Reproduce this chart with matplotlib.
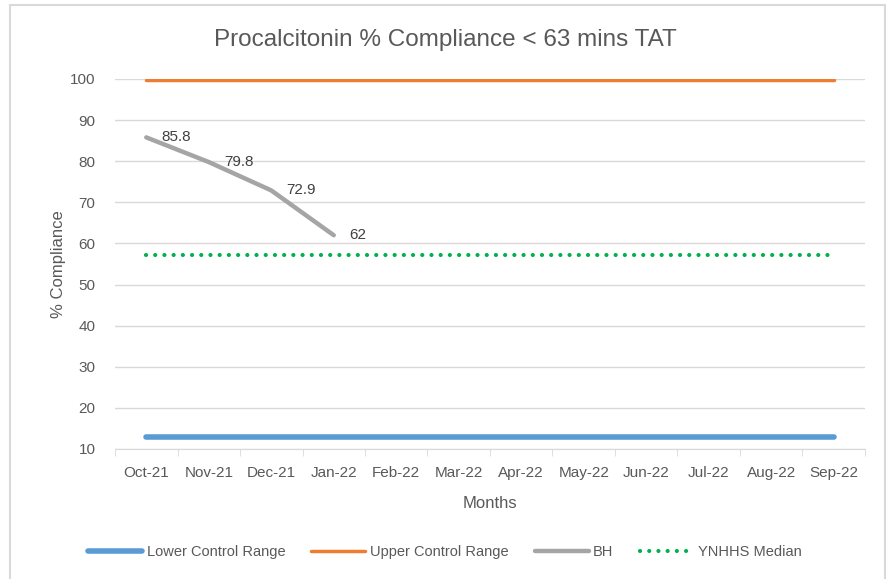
import matplotlib
matplotlib.use("Agg")
import matplotlib.pyplot as plt
from matplotlib.patches import Rectangle
import numpy as np

months = ["Oct-21", "Nov-21", "Dec-21", "Jan-22", "Feb-22", "Mar-22",
          "Apr-22", "May-22", "Jun-22", "Jul-22", "Aug-22", "Sep-22"]
lower_control = [12.8] * 12
upper_control = [99.8] * 12
bh = [85.8, 79.8, 72.9, 62]
ynhhs_median = [57.2] * 12

plt.rcParams['font.family'] = ['Liberation Sans', 'DejaVu Sans']
txt = "#595959"

fig = plt.figure(figsize=(8.9, 5.79), dpi=100)
ax = fig.add_axes([115/890, 1-449/579, 750/890, 370/579])

x = np.arange(len(months))
ax.plot(x, lower_control, color="#5B9BD5", lw=4, solid_capstyle="round", label="Lower Control Range", zorder=3)
ax.plot(x, upper_control, color="#ED7D31", lw=2.5, solid_capstyle="round", label="Upper Control Range", zorder=3)
ax.plot(x[:len(bh)], bh, color="#A5A5A5", lw=3.2, solid_capstyle="round", label="BH", zorder=3)
ax.plot(x, ynhhs_median, color="#00B050", lw=3, linestyle=(0, (0.01, 2.2)), dash_capstyle="round",
        label="YNHHS Median", zorder=3)

for xi, v in zip(x[:len(bh)], bh):
    ax.annotate(f"{v:g}", (xi, v), xytext=(11, 0), textcoords="offset points",
                ha="left", va="center", fontsize=11, color="#404040")

ax.set_xlim(-0.5, len(months) - 0.5)
ax.set_ylim(10, 100)
ax.set_yticks(range(10, 101, 10))
ax.yaxis.grid(True, color="#D9D9D9", lw=1)
ax.set_axisbelow(True)
ax.set_xticks(x)
ax.set_xticklabels(months)
ax.set_xticks(np.arange(-0.5, len(months), 1), minor=True)
ax.tick_params(axis="x", which="major", length=0, pad=12, labelsize=11, labelcolor=txt)
ax.tick_params(axis="x", which="minor", length=5, color="#D9D9D9", direction="out")
ax.tick_params(axis="y", length=0, pad=14, labelsize=11, labelcolor=txt)
for s in ["top", "right", "left"]:
    ax.spines[s].set_visible(False)
ax.spines["bottom"].set_color("#D9D9D9")

ax.set_xlabel("Months", fontsize=12, color=txt, labelpad=12)
ax.set_ylabel("% Compliance", fontsize=12, color=txt, labelpad=3)
fig.text(0.5, 1-40/579, "Procalcitonin % Compliance < 63 mins TAT", ha="center", va="center",
         fontsize=17.5, color=txt)

leg = fig.legend(loc="center", bbox_to_anchor=(0.5, 1-552/579), ncol=4, frameon=False,
                 fontsize=10.5, handlelength=3.7, columnspacing=1.8, handletextpad=0.3)
for t in leg.get_texts():
    t.set_color(txt)

fig.add_artist(Rectangle((10/890, -0.01), 875/890, 1-5/579 + 0.01, transform=fig.transFigure,
                         fill=False, edgecolor="#D9D9D9", lw=1.5))

fig.savefig("out.png", dpi=100, facecolor="white")
